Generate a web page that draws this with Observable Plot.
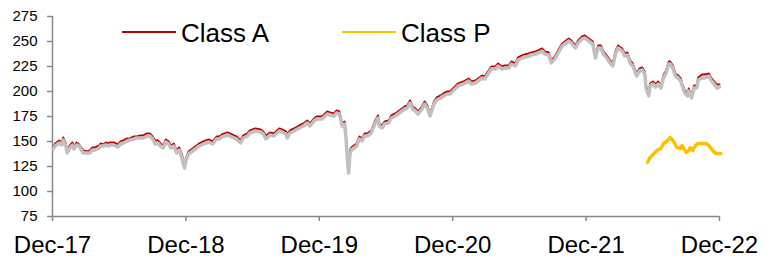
<!DOCTYPE html>
<html>
<head>
<meta charset="utf-8">
<script src="https://cdn.jsdelivr.net/npm/d3@7"></script>
<script src="https://cdn.jsdelivr.net/npm/@observablehq/plot@0.6"></script>
<style>
  html, body { margin: 0; padding: 0; background: #fff; }
  #wrap { position: relative; width: 765px; height: 256px; font-family: "Liberation Sans", Arial, sans-serif; }
  .lg-line { position: absolute; height: 2.5px; }
  .lg-text { position: absolute; font-size: 26px; line-height: 26px; color: #000; white-space: nowrap; }
</style>
</head>
<body>
<div id="wrap"></div>
<script>
// Time in decimal years (2018.00 = end of Dec-17)
const years = [2018.005,2018.02,2018.05,2018.07,2018.08,2018.10,2018.11,2018.13,2018.15,2018.16,2018.18,2018.20,2018.22,2018.23,2018.26,2018.28,2018.30,2018.32,2018.35,2018.36,2018.38,2018.40,2018.42,2018.43,2018.46,2018.49,2018.51,2018.53,2018.56,2018.58,2018.61,2018.63,2018.66,2018.68,2018.71,2018.73,2018.75,2018.77,2018.79,2018.81,2018.83,2018.85,2018.87,2018.89,2018.91,2018.93,2018.95,2018.97,2018.98,2018.99,
2019.00,2019.02,2019.05,2019.07,2019.10,2019.13,2019.17,2019.20,2019.23,2019.25,2019.27,2019.31,2019.33,2019.36,2019.38,2019.41,2019.43,2019.46,2019.48,2019.52,2019.56,2019.58,2019.60,2019.63,2019.66,2019.70,2019.72,2019.75,2019.76,2019.78,2019.81,2019.85,2019.88,2019.91,2019.93,2019.96,2019.98,
2020.00,2020.02,2020.06,2020.08,2020.11,2020.13,2020.15,2020.16,2020.17,2020.19,2020.20,2020.21,2020.22,2020.23,2020.24,2020.26,2020.28,2020.30,2020.32,2020.34,2020.36,2020.39,2020.41,2020.42,2020.44,2020.45,2020.47,2020.49,2020.52,2020.54,2020.57,2020.59,2020.62,2020.64,2020.66,2020.68,2020.70,2020.72,2020.74,2020.77,2020.79,2020.81,2020.83,2020.86,2020.88,2020.91,2020.93,2020.96,2020.98,
2021.01,2021.04,2021.08,2021.12,2021.14,2021.17,2021.19,2021.22,2021.24,2021.27,2021.29,2021.32,2021.34,2021.37,2021.39,2021.42,2021.44,2021.47,2021.49,2021.52,2021.54,2021.57,2021.59,2021.62,2021.64,2021.67,2021.69,2021.72,2021.74,2021.77,2021.79,2021.82,2021.84,2021.87,2021.89,2021.92,2021.94,2021.97,2021.99,
2022.02,2022.05,2022.07,2022.09,2022.11,2022.13,2022.16,2022.18,2022.20,2022.22,2022.24,2022.27,2022.29,2022.31,2022.33,2022.35,2022.37,2022.38,2022.40,2022.42,2022.44,2022.45,2022.47,2022.48,2022.50,2022.52,2022.54,2022.56,2022.58,2022.60,2022.62,2022.63,2022.65,2022.67,2022.69,2022.71,2022.72,2022.74,2022.76,2022.77,2022.79,2022.81,2022.83,2022.84,2022.87,2022.89,2022.92,2022.94,2022.96,2022.98,2023.00];

const classA = [144,148,151,149,154,148,141,146,149,145,149,147,143,141,140,141,144,144,146,148,147,149,148,149,149,147,150,151,153,153,155,155,156,156,158,158,155,151,151,148,146,152,150,146,148,141,144,137,131,127,
133,140,143,145,148,150,152,150,155,155,157,159,158,156,155,151,156,158,161,163,162,160,156,159,158,163,162,160,157,161,163,166,168,171,168,173,175,
175,175,180,179,178,181,180,175,168,170,157,138,125,141,144,146,148,155,153,158,158,161,168,171,176,168,166,170,171,176,178,180,183,185,186,191,185,183,180,185,190,186,178,190,194,196,198,200,200,
204,208,210,213,210,211,213,216,215,221,225,225,228,225,226,226,230,228,234,236,237,238,239,240,241,243,240,239,231,236,241,248,250,253,251,246,251,255,256,
253,250,237,246,246,240,235,231,228,240,246,243,238,239,231,228,221,218,223,224,220,205,199,208,210,207,210,206,216,221,230,230,226,218,216,213,208,201,198,203,196,206,206,214,217,217,218,213,210,207,207];

const benchmark = [143,146,149,147,152,146,139,144,147,143,147,146,141,139,139,139,142,142,144,146,146,147,146,147,147,145,148,149,151,152,153,154,154,154,156,156,153,148,149,146,144,150,148,144,146,139,142,134,128,124,
131,138,141,143,146,148,150,148,153,153,155,157,156,154,153,149,154,156,159,161,160,158,153,157,156,161,160,158,154,159,161,164,166,169,166,171,173,
173,173,178,177,176,179,178,173,166,168,154,134,119,138,142,144,146,153,151,156,156,159,166,169,174,166,164,168,169,174,176,178,181,183,184,189,183,181,178,183,188,184,176,188,192,194,196,198,198,
202,206,208,211,208,209,211,214,213,219,223,223,226,223,224,224,228,226,232,234,235,236,237,238,239,241,238,237,229,234,239,246,248,251,249,244,249,253,254,
251,248,234,244,244,238,233,229,226,238,244,241,236,237,229,226,219,216,221,222,218,203,196,206,208,205,208,204,214,219,228,228,224,216,214,211,206,199,196,201,194,204,204,212,214,214,216,211,208,204,205];

const yearsP = [2022.46,2022.48,2022.51,2022.53,2022.56,2022.58,2022.61,2022.63,2022.65,2022.66,2022.68,2022.71,2022.72,2022.75,2022.77,2022.78,2022.80,2022.82,2022.84,2022.87,2022.90,2022.92,2022.93,2022.95,2022.97,2022.99,2023.01];
const classP = [129,134,138,141,143,148,151,154,151,149,144,143,146,139,141,144,141,146,148,148,148,146,144,141,138,138,138];

const tickLabels = ["Dec-17","Dec-18","Dec-19","Dec-20","Dec-21","Dec-22"];
const yTicks = [75,100,125,150,175,200,225,250,275];
const legendItems = [
  {label: "Class A", color: "#C00000", x: 122},
  {label: "Class P", color: "#FFC000", x: 342}
];

const base = Date.UTC(2017, 11, 31);
const toDate = y => new Date(base + (y - 2018) * 365.25 * 864e5);
const tickDates = tickLabels.map((_, i) => toDate(2018 + i));

const dataA = years.map((y, i) => ({date: toDate(y), v: classA[i]}));
const dataB = years.map((y, i) => ({date: toDate(y), v: benchmark[i]}));
const dataP = yearsP.map((y, i) => ({date: toDate(y), v: classP[i]}));

const axisColor = "#898989";

const chart = Plot.plot({
  width: 765,
  height: 256,
  marginLeft: 52,
  marginRight: 46,
  marginTop: 16,
  marginBottom: 40,
  style: {fontFamily: "'Liberation Sans', Arial, sans-serif", fontSize: "15px", color: "#000", background: "#fff", overflow: "visible"},
  x: {type: "utc", domain: [tickDates[0], tickDates[tickDates.length - 1]]},
  y: {domain: [75, 275]},
  marks: [
    Plot.ruleX([tickDates[0]], {stroke: axisColor, strokeWidth: 1.5}),
    Plot.ruleY([75], {stroke: axisColor, strokeWidth: 1.5}),
    Plot.axisY({ticks: yTicks, tickSize: 5, tickPadding: 10, stroke: axisColor, strokeWidth: 1.5, label: null, fontSize: 15, fill: "#000"}),
    Plot.axisX({ticks: tickDates, tickFormat: (d, i) => tickLabels[i], tickSize: 5, tickPadding: 14, stroke: axisColor, strokeWidth: 1.5, label: null, fontSize: 24, fill: "#000"}),
    Plot.line(dataA, {x: "date", y: "v", stroke: "#C00000", strokeWidth: 2}),
    Plot.line(dataB, {x: "date", y: "v", stroke: "#C0C0C0", strokeWidth: 3.5, dy: 0.5}),
    Plot.line(dataP, {x: "date", y: "v", stroke: "#FFC000", strokeWidth: 3.5})
  ]
});

const wrap = document.getElementById("wrap");
wrap.appendChild(chart);
legendItems.forEach(item => {
  const ln = document.createElement("div");
  ln.className = "lg-line";
  ln.style.left = item.x + "px";
  ln.style.top = "30.5px";
  ln.style.width = "54px";
  ln.style.background = item.color;
  wrap.appendChild(ln);
  const tx = document.createElement("div");
  tx.className = "lg-text";
  tx.style.left = (item.x + 59) + "px";
  tx.style.top = "20px";
  tx.textContent = item.label;
  wrap.appendChild(tx);
});
</script>
</body>
</html>
